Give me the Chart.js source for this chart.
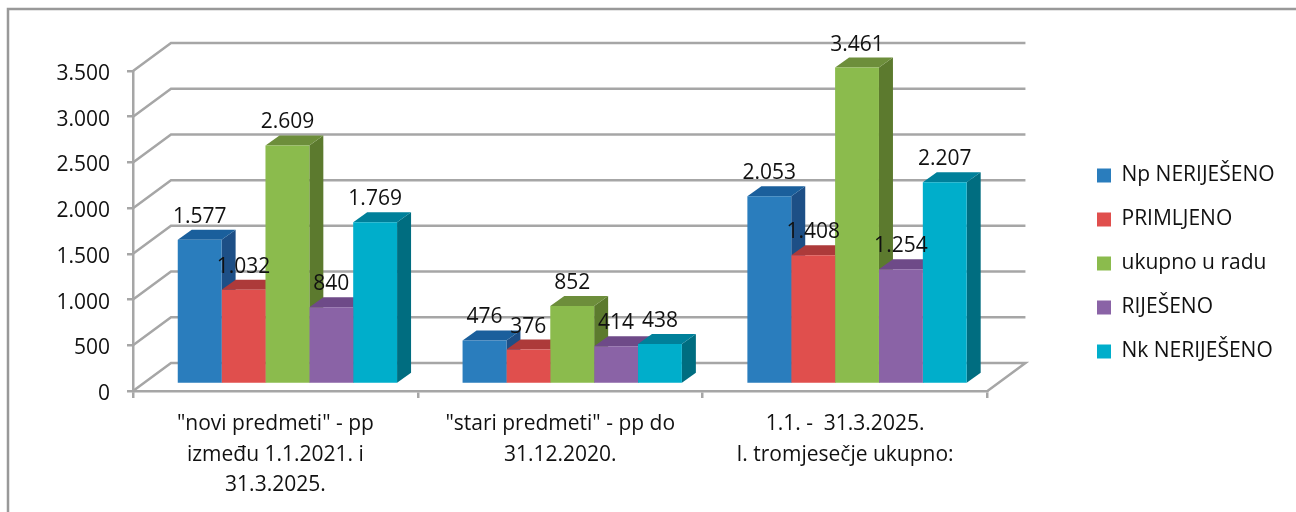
<!DOCTYPE html>
<html>
<head>
<meta charset="utf-8">
<style>
  html, body { margin: 0; padding: 0; background: #fff; }
</style>
<script src="https://cdn.jsdelivr.net/npm/chart.js@4"></script>
</head>
<body>
<canvas id="chartPredmeti" width="1296" height="512"></canvas>
<script>
const categories = [
    ['"novi predmeti" - pp', 'između 1.1.2021. i', '31.3.2025.'],
    ['"stari predmeti" - pp do', '31.12.2020.'],
    ['1.1. -  31.3.2025.', 'I. tromjesečje ukupno:']
];
const seriesNames = ['Np NERIJEŠENO', 'PRIMLJENO', 'ukupno u radu', 'RIJEŠENO', 'Nk NERIJEŠENO'];
const npNeriješeno = [1577, 476, 2053];
const primljeno = [1032, 376, 1408];
const ukupnoURadu = [2609, 852, 3461];
const riješeno = [840, 414, 1254];
const nkNeriješeno = [1769, 438, 2207];
const seriesValues = [npNeriješeno, primljeno, ukupnoURadu, riješeno, nkNeriješeno];

const frontColors = ['#2a7dbd', '#e04f4d', '#8bbb4d', '#8a63a6', '#00aecb'];
const topColors = ['#1a5f9c', '#ad3a3a', '#6d8e3b', '#6e4a88', '#00809a'];
const sideColors = ['#1d4f86', '#8e2e2e', '#5c7a2e', '#5a3b72', '#006d80'];

const FONT = '"Open Sans", sans-serif';
const GRID = '#a6a6a6';
// pomak zadnjeg zida, prednje strane stupca i dubina stupca
const WALL_DX = 38, WALL_DY = -28;
const BAR_DX = 12, BAR_DY = -7;
const DEPTH_X = 14, DEPTH_Y = -10;

function fmt(v) {
    return String(v).replace(/\B(?=(\d{3})+$)/g, '.');
}

function poly(ctx, color, pts) {
    ctx.fillStyle = color;
    ctx.beginPath();
    pts.forEach((p, i) => i ? ctx.lineTo(p[0], p[1]) : ctx.moveTo(p[0], p[1]));
    ctx.closePath();
    ctx.fill();
}

const plot3d = {
    id: 'plot3d',
    afterLayout(chart) {
        // legenda stoji dalje od grafa nego sto bi je layout stavio
        chart.legend.left = 1074;
        chart.legend.right = 1296;
        chart.legend.top = 142;
        chart.legend.bottom = 512;
    },
    beforeDraw(chart) {
        const ctx = chart.ctx;
        ctx.save();
        ctx.strokeStyle = '#999999';
        ctx.lineWidth = 2.5;
        ctx.beginPath();
        ctx.moveTo(8, 512);
        ctx.lineTo(8, 9);
        ctx.lineTo(1296, 9);
        ctx.stroke();
        ctx.restore();
    },
    beforeDatasetsDraw(chart) {
        const ctx = chart.ctx, y = chart.scales.y, area = chart.chartArea;
        ctx.save();
        ctx.strokeStyle = GRID;
        ctx.lineWidth = 2.5;
        y.ticks.forEach(t => {
            const py = y.getPixelForValue(t.value);
            ctx.beginPath();
            ctx.moveTo(area.left, py);
            ctx.lineTo(area.left + WALL_DX, py + WALL_DY);
            ctx.lineTo(area.right + WALL_DX, py + WALL_DY);
            if (t.value === 0) ctx.lineTo(area.right, py);
            ctx.stroke();
        });
        ctx.restore();
        ctx.save();
        ctx.translate(BAR_DX, BAR_DY);
        // bocne i gornje strane slijeva nadesno, prednje strane crta Chart.js preko njih
        chart.data.datasets.forEach((ds, i) => {
            chart.getDatasetMeta(i).data.forEach(bar => {
                const l = bar.x - bar.width / 2, r = bar.x + bar.width / 2;
                const t = bar.y, b = bar.base;
                poly(ctx, sideColors[i], [[r, t], [r + DEPTH_X, t + DEPTH_Y], [r + DEPTH_X, b + DEPTH_Y], [r, b]]);
                poly(ctx, topColors[i], [[l, t], [l + DEPTH_X, t + DEPTH_Y], [r + DEPTH_X, t + DEPTH_Y], [r, t]]);
            });
        });
    },
    afterDatasetsDraw(chart) {
        const ctx = chart.ctx, y = chart.scales.y;
        ctx.restore();
        ctx.save();
        ctx.fillStyle = '#111';
        ctx.font = '21px ' + FONT;
        ctx.textAlign = 'center';
        ctx.textBaseline = 'middle';
        chart.data.datasets.forEach((ds, i) => {
            chart.getDatasetMeta(i).data.forEach((bar, j) => {
                ctx.fillText(fmt(ds.data[j]), bar.x + BAR_DX, bar.y + BAR_DY - 23);
            });
        });
        // oznake y osi: nativne su par piksela previsoko
        ctx.textAlign = 'right';
        y.ticks.forEach(t => {
            ctx.fillText(fmt(t.value), y.right - 23, y.getPixelForValue(t.value) + 3);
        });
        ctx.restore();
    }
};

new Chart(document.getElementById('chartPredmeti').getContext('2d'), {
    type: 'bar',
    data: {
        labels: categories,
        datasets: seriesNames.map((name, i) => ({
            label: name,
            data: seriesValues[i],
            backgroundColor: frontColors[i],
            borderWidth: 0,
            clip: false
        }))
    },
    options: {
        responsive: false,
        animation: false,
        layout: { padding: { top: 71, right: 98, left: 0, bottom: 0 } },
        datasets: { bar: { barPercentage: 1, categoryPercentage: 0.77 } },
        plugins: {
            tooltip: { enabled: false },
            legend: {
                position: 'right',
                align: 'start',
                labels: {
                    boxWidth: 14,
                    boxHeight: 14,
                    padding: 23,
                    color: '#111',
                    font: { family: FONT, size: 21 }
                }
            }
        },
        scales: {
            x: {
                afterFit(scale) { scale.height = 121; },
                grid: { drawOnChartArea: false, color: GRID, lineWidth: 2.5, tickLength: 7 },
                border: { color: GRID, width: 2.5 },
                ticks: {
                    color: '#111',
                    padding: 11,
                    maxRotation: 0,
                    font: { family: FONT, size: 21, lineHeight: 1.45 }
                }
            },
            y: {
                min: 0,
                max: 3500,
                afterFit(scale) { scale.width = 133; },
                grid: { drawOnChartArea: false, color: GRID, lineWidth: 2.5, tickLength: 6 },
                border: { color: GRID, width: 2.5 },
                ticks: {
                    stepSize: 500,
                    display: false
                }
            }
        }
    },
    plugins: [plot3d]
});
</script>
</body>
</html>
